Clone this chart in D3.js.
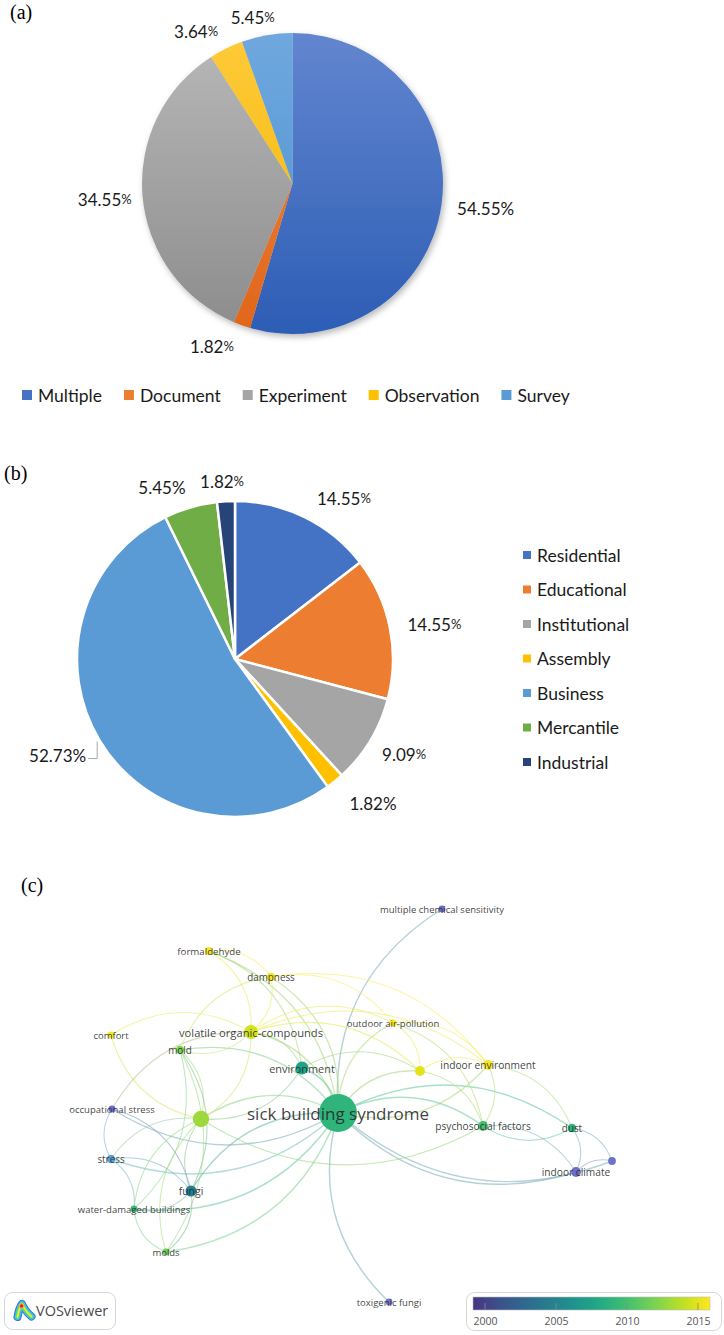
<!DOCTYPE html>
<html><head><meta charset="utf-8">
<script src="https://cdn.jsdelivr.net/npm/d3@7"></script>
<style>body{margin:0;background:#fff;} svg{display:block;}</style>
</head><body>
<svg id="chart" width="724" height="1335"></svg>
<script>
// ---------------- DATA ----------------
const methodCategories = ["Multiple","Document","Experiment","Observation","Survey"];
const methodValues = [54.55, 1.82, 34.55, 3.64, 5.45];

const buildingCategories = ["Residential","Educational","Institutional","Assembly","Business","Mercantile","Industrial"];
const buildingValues = [14.55, 14.55, 9.09, 1.82, 52.73, 5.45, 1.82];

// VOSviewer keyword overlay map (layout coordinates, occurrences, avg. publication year)
const keywordNames = ["sick building syndrome","multiple chemical sensitivity","formaldehyde","dampness","comfort",
  "volatile organic-compounds","outdoor air-pollution","mold","environment","ventilation","indoor environment",
  "occupational stress","indoor air quality","psychosocial factors","dust","symptoms","indoor climate","stress",
  "fungi","water-damaged buildings","molds","toxigenic fungi"];
const keywordX = [0,104,-129,-67,-227,-87,55,-158,-36,82,150,-226,-137,145,234,274,238,-227,-147,-204,-172,51];
const keywordY = [0,-204,-162,-136,-78,-81,-90,-63,-45,-42,-48,-4,6,13,15,48,59,46,78,96,139,189];
const keywordWeight = [60,2,2.5,3,2,8,2,3,7,4,4,2,11,4,3,2.5,4,3,5,2,2,2];
const keywordYear = [2009,2000,2015.6,2015.6,2015.6,2014.5,2015.6,2012,2007.5,2015,2015.6,2000,2013,2010,2009,2000.3,2000,2002.5,2004.5,2009.5,2011.5,2000.3];
const keywordShowLabel = [1,1,1,1,1,1,1,1,1,0,1,1,0,1,1,0,1,1,1,1,1,1];

const links = [
 ["sick building syndrome","multiple chemical sensitivity"],
 ["toxigenic fungi","sick building syndrome"],
 ["sick building syndrome","dust"],
 ["indoor climate","sick building syndrome"],
 ["symptoms","sick building syndrome"],
 ["sick building syndrome","occupational stress"],
 ["sick building syndrome","stress"],
 ["fungi","sick building syndrome"],
 ["sick building syndrome","water-damaged buildings"],
 ["sick building syndrome","molds"],
 ["indoor air quality","sick building syndrome"],
 ["environment","sick building syndrome"],
 ["volatile organic-compounds","sick building syndrome"],
 ["mold","sick building syndrome"],
 ["indoor environment","sick building syndrome"],
 ["sick building syndrome","ventilation"],
 ["sick building syndrome","outdoor air-pollution"],
 ["sick building syndrome","psychosocial factors"],
 ["dampness","sick building syndrome"],
 ["formaldehyde","sick building syndrome"],
 ["formaldehyde","dampness"],
 ["formaldehyde","volatile organic-compounds"],
 ["formaldehyde","environment"],
 ["dampness","volatile organic-compounds"],
 ["dampness","indoor environment"],
 ["mold","dampness"],
 ["dampness","outdoor air-pollution"],
 ["comfort","volatile organic-compounds"],
 ["indoor air quality","comfort"],
 ["volatile organic-compounds","mold"],
 ["volatile organic-compounds","indoor air quality"],
 ["volatile organic-compounds","environment"],
 ["volatile organic-compounds","ventilation"],
 ["volatile organic-compounds","indoor environment"],
 ["volatile organic-compounds","outdoor air-pollution"],
 ["mold","indoor air quality"],
 ["mold","fungi"],
 ["mold","molds"],
 ["mold","water-damaged buildings"],
 ["environment","ventilation"],
 ["environment","indoor air quality"],
 ["outdoor air-pollution","ventilation"],
 ["outdoor air-pollution","indoor environment"],
 ["outdoor air-pollution","psychosocial factors"],
 ["ventilation","indoor environment"],
 ["ventilation","psychosocial factors"],
 ["indoor environment","psychosocial factors"],
 ["indoor environment","dust"],
 ["dust","psychosocial factors"],
 ["psychosocial factors","indoor climate"],
 ["dust","indoor climate"],
 ["dust","symptoms"],
 ["indoor climate","symptoms"],
 ["stress","occupational stress"],
 ["occupational stress","fungi"],
 ["occupational stress","volatile organic-compounds"],
 ["stress","fungi"],
 ["stress","water-damaged buildings"],
 ["stress","indoor air quality"],
 ["fungi","indoor air quality"],
 ["fungi","water-damaged buildings"],
 ["fungi","molds"],
 ["molds","water-damaged buildings"],
 ["water-damaged buildings","indoor air quality"],
 ["molds","indoor air quality"],
 ["psychosocial factors","indoor air quality"]
];
const yearTicks = [2000, 2005, 2010, 2015];

// ---------------- STYLE ----------------
const svg = d3.select("#chart");
const defs = svg.append("defs");
const labelFont = "Lato, 'Open Sans', sans-serif";
const netFont = "'Open Sans', 'Noto Sans', sans-serif";

const colorsA = {Multiple:"#4472c4",Document:"#ed7d31",Experiment:"#a5a5a5",Observation:"#ffc000",Survey:"#5b9bd5"};
const gradA = {Multiple:["#6286cf","#2d5db5"],Document:["#f08a45","#e0651a"],Experiment:["#b8b8b8","#8c8c8c"],
               Observation:["#ffca3a","#f0b400"],Survey:["#6fa8de","#4a8fd0"]};
const colorsB = {Residential:"#4472c4",Educational:"#ed7d31",Institutional:"#a5a5a5",Assembly:"#ffc000",
                 Business:"#5b9bd5",Mercantile:"#70ad47",Industrial:"#264478"};
const smallPctA = {Multiple:false,Document:true,Experiment:true,Observation:true,Survey:true};
const smallPctB = {Residential:true,Educational:true,Institutional:true,Assembly:false,Business:false,Mercantile:false,Industrial:true};
const nudgeA = {Multiple:[4,0],Document:[-18.6,2],Experiment:[1,1],Observation:[-15,0.5],Survey:[-8.4,1.5]};
const nudgeB = {Residential:[22,-1.7],Educational:[6.4,0.3],Institutional:[4.7,3],Assembly:[15.5,6],Mercantile:[-18.5,-1.2],Industrial:[-2,0]};

function pctLabel(g, value, small) {
  const t = g.append("text").attr("font-family", labelFont).attr("font-size", 17).attr("fill", "#1a1a1a")
    .attr("dominant-baseline", "central");
  t.append("tspan").text(value.toFixed(2));
  t.append("tspan").attr("font-size", small ? 13 : 17).text("%");
  return t;
}
function placeLabel(t, cx, cy, R, ang, nudge) {
  const w = t.node().getComputedTextLength();
  const s = Math.sin(ang), c = Math.cos(ang);
  const x = cx + R * s + s * w / 2 + nudge[0];
  const y = cy - R * c - c * 8 + nudge[1];
  t.attr("text-anchor", "middle").attr("x", x).attr("y", y);
}

function panelLetter(txt, x, y) {
  svg.append("text").attr("x", x).attr("y", y).attr("font-family", "'Liberation Serif', 'DejaVu Serif', serif")
    .attr("font-size", 20).attr("fill", "#000").text(txt);
}
panelLetter("(a)", 10, 19);
panelLetter("(b)", 4, 480);
panelLetter("(c)", 21, 892);

// ---------------- PANEL A ----------------
(function () {
  const cx = 292.5, cy = 183.5, r = 150.5;
  const f = defs.append("filter").attr("id", "shadowA").attr("x", "-10%").attr("y", "-10%").attr("width", "125%").attr("height", "125%");
  f.append("feDropShadow").attr("dx", 2).attr("dy", 3).attr("stdDeviation", 3).attr("flood-color", "#000").attr("flood-opacity", 0.28);
  methodCategories.forEach((k, i) => {
    const lg = defs.append("linearGradient").attr("id", "gA" + i).attr("gradientUnits", "userSpaceOnUse")
      .attr("x1", 0).attr("x2", 0).attr("y1", -r).attr("y2", r);
    lg.append("stop").attr("offset", "0%").attr("stop-color", gradA[k][0]);
    lg.append("stop").attr("offset", "100%").attr("stop-color", gradA[k][1]);
  });
  const arcs = d3.pie().sort(null).value(d => d)(methodValues);
  const arc = d3.arc().innerRadius(0).outerRadius(r);
  const g = svg.append("g");
  g.append("g").attr("transform", `translate(${cx},${cy})`).attr("filter", "url(#shadowA)")
    .selectAll("path").data(arcs).join("path")
    .attr("d", arc).attr("fill", (d, i) => `url(#gA${i})`);
  arcs.forEach((d, i) => {
    const k = methodCategories[i];
    const t = pctLabel(g, methodValues[i], smallPctA[k]);
    placeLabel(t, cx, cy, r + 12, (d.startAngle + d.endAngle) / 2, nudgeA[k]);
  });
  let x = 22;
  const ly = 395;
  methodCategories.forEach((k, i) => {
    g.append("rect").attr("x", x).attr("y", ly - 5).attr("width", 10).attr("height", 10).attr("fill", colorsA[k]);
    const t = g.append("text").attr("x", x + 16).attr("y", ly).attr("dominant-baseline", "central")
      .attr("font-family", labelFont).attr("font-size", 17.5).attr("fill", "#1a1a1a").text(k);
    x = x + 16 + t.node().getComputedTextLength() + 22;
  });
})();

// ---------------- PANEL B ----------------
(function () {
  const cx = 235, cy = 659, r = 158;
  const arcs = d3.pie().sort(null).value(d => d)(buildingValues);
  const arc = d3.arc().innerRadius(0).outerRadius(r);
  const g = svg.append("g");
  g.append("g").attr("transform", `translate(${cx},${cy})`)
    .selectAll("path").data(arcs).join("path")
    .attr("d", arc).attr("fill", (d, i) => colorsB[buildingCategories[i]])
    .attr("stroke", "#fff").attr("stroke-width", 2.5).attr("stroke-linejoin", "round");
  arcs.forEach((d, i) => {
    const k = buildingCategories[i];
    const ang = (d.startAngle + d.endAngle) / 2;
    const t = pctLabel(g, buildingValues[i], smallPctB[k]);
    if (k === "Business") {
      const ex = cx + r * Math.sin(ang), ey = cy - r * Math.cos(ang);
      g.append("path").attr("d", `M${ex - 2.5},${ey + 1}V${ey + 18}H${ex - 11.5}`)
        .attr("fill", "none").attr("stroke", "#a6a6a6").attr("stroke-width", 1);
      t.attr("text-anchor", "end").attr("x", ex - 13.5).attr("y", ey + 14);
    } else {
      placeLabel(t, cx, cy, r + 12, ang, nudgeB[k]);
    }
  });
  buildingCategories.forEach((k, i) => {
    const y = 555 + i * 34.5;
    g.append("rect").attr("x", 523).attr("y", y - 4).attr("width", 8).attr("height", 8).attr("fill", colorsB[k]);
    g.append("text").attr("x", 537).attr("y", y).attr("dominant-baseline", "central")
      .attr("font-family", labelFont).attr("font-size", 17.5).attr("fill", "#1a1a1a").text(k);
  });
})();

// ---------------- PANEL C (VOSviewer overlay) ----------------
(function () {
  const nx = d3.scaleLinear().domain([-300, 300]).range([38, 638]);
  const ny = d3.scaleLinear().domain([-300, 300]).range([813, 1413]);
  const rScale = d3.scaleSqrt().domain([0, 60]).range([0, 19]);
  const fScale = d3.scalePow().exponent(0.5).domain([2, 60]).range([9.5, 17]).clamp(true);
  const yearDomain = [1999.15, 2015.85];
  const yearColor = d3.scaleSequential(t => d3.interpolateViridis(0.15 + 0.85 * t)).domain(yearDomain);
  // VOSviewer renders marks semi-transparent: blue/purple items appear as light lavender
  const soften = c => {
    const h = d3.hsl(c);
    if (h.h > 190 && h.h < 300) { h.l = Math.max(h.l, 0.6); h.s = Math.min(1, h.s * 1.25); }
    return h.formatHex();
  };
  const nodeColor = y => soften(yearColor(y));

  const nodes = keywordNames.map((n, i) => ({name: n, x: keywordX[i], y: keywordY[i], w: keywordWeight[i],
    year: keywordYear[i], show: keywordShowLabel[i]}));
  const byName = new Map(nodes.map(d => [d.name, d]));
  const g = svg.append("g");

  const k = 0.3;
  g.append("g").attr("fill", "none").selectAll("path").data(links).join("path")
    .attr("d", l => {
      const a = byName.get(l[0]), b = byName.get(l[1]);
      const x1 = nx(a.x), y1 = ny(a.y), x2 = nx(b.x), y2 = ny(b.y);
      const dx = x2 - x1, dy = y2 - y1;
      const qx = (x1 + x2) / 2 + dy * k, qy = (y1 + y2) / 2 - dx * k;
      return `M${x1},${y1}Q${qx},${qy} ${x2},${y2}`;
    })
    .attr("stroke", l => {
      const c = d3.interpolateRgb(nodeColor(byName.get(l[0]).year), nodeColor(byName.get(l[1]).year))(0.5);
      return d3.interpolateRgb(c, "#ffffff")(0.3);
    })
    .attr("stroke-opacity", 0.6)
    .attr("stroke-width", l => (l[0] === "sick building syndrome" || l[1] === "sick building syndrome") ? 1.4 : 1.05);

  g.append("g").selectAll("circle").data(nodes).join("circle")
    .attr("cx", d => nx(d.x)).attr("cy", d => ny(d.y)).attr("r", d => rScale(d.w))
    .attr("fill", d => nodeColor(d.year));

  g.append("g").selectAll("text").data(nodes.filter(d => d.show)).join("text")
    .attr("x", d => nx(d.x)).attr("y", d => ny(d.y))
    .attr("text-anchor", "middle").attr("dominant-baseline", "central")
    .attr("font-family", netFont).attr("font-size", d => fScale(d.w))
    .attr("fill", "#262626").attr("fill-opacity", 0.88).text(d => d.name);

  // colour legend
  const yx = d3.scaleLinear().domain(yearDomain).range([473, 710]);
  g.append("rect").attr("x", 466.5).attr("y", 1292.5).attr("width", 255).attr("height", 38).attr("rx", 8)
    .attr("fill", "#fff").attr("stroke", "#d6d6d6");
  const lg = defs.append("linearGradient").attr("id", "yearGrad").attr("x1", 0).attr("x2", 1).attr("y1", 0).attr("y2", 0);
  d3.range(0, 1.0001, 0.05).forEach(t => {
    lg.append("stop").attr("offset", (t * 100) + "%").attr("stop-color", yearColor(yearDomain[0] + t * (yearDomain[1] - yearDomain[0])));
  });
  g.append("rect").attr("x", yx.range()[0]).attr("y", 1297).attr("width", yx.range()[1] - yx.range()[0]).attr("height", 13)
    .attr("fill", "url(#yearGrad)").attr("stroke", "#bbb").attr("stroke-width", 0.6);
  const ax = d3.axisBottom(yx).tickValues(yearTicks).tickFormat(d3.format("d")).tickSize(0).tickPadding(8);
  const axg = g.append("g").attr("transform", "translate(0,1310)").call(ax);
  axg.select(".domain").remove();
  axg.selectAll("text").attr("font-family", netFont).attr("font-size", 10.5).attr("fill", "#555");
  g.append("g").selectAll("line").data(yearTicks).join("line")
    .attr("x1", d => yx(d)).attr("x2", d => yx(d)).attr("y1", 1303).attr("y2", 1310)
    .attr("stroke", "#8a8a8a").attr("stroke-width", 0.8);

  // VOSviewer badge
  g.append("rect").attr("x", 4.5).attr("y", 1292.5).attr("width", 111).attr("height", 37).attr("rx", 8)
    .attr("fill", "#fff").attr("stroke", "#d6d6d6");
  const iconPath = "M17.5,1317 Q19,1308 22,1304 Q25,1311 31.5,1316.5";
  [["#3b6fe0", 8], ["#33c7e8", 6], ["#5fdc6a", 3.6], ["#f2e63a", 1.8]].forEach(s => {
    g.append("path").attr("d", iconPath).attr("fill", "none").attr("stroke", s[0]).attr("stroke-width", s[1])
      .attr("stroke-linecap", "round").attr("stroke-linejoin", "round");
  });
  g.append("circle").attr("cx", 21.5).attr("cy", 1306).attr("r", 2.8).attr("fill", "#f5b335");
  g.append("circle").attr("cx", 21.5).attr("cy", 1306).attr("r", 1.7).attr("fill", "#e0261b");
  g.append("text").attr("x", 36).attr("y", 1310).attr("dominant-baseline", "central")
    .attr("font-family", netFont).attr("font-size", 14.5).attr("fill", "#4a4a4a").text("VOSviewer");
})();
</script>
</body></html>
